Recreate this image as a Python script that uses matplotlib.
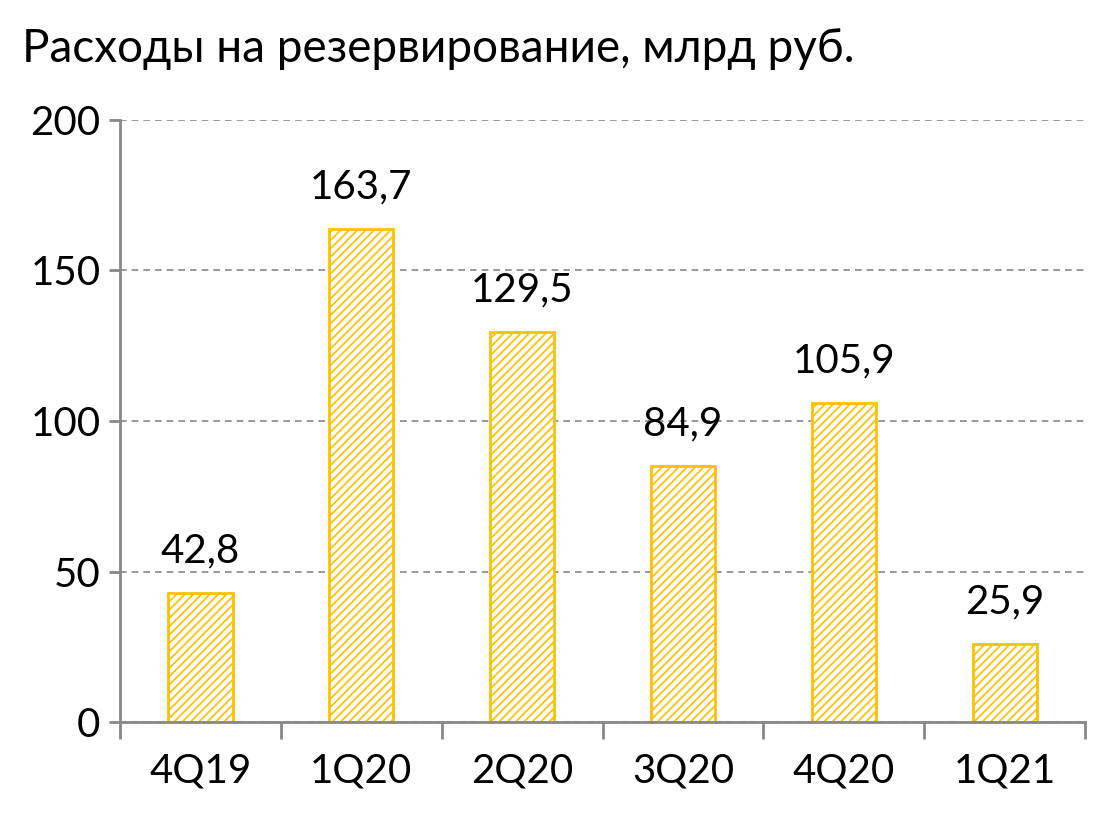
import matplotlib
matplotlib.use("Agg")
import matplotlib.pyplot as plt

categories = ["4Q19", "1Q20", "2Q20", "3Q20", "4Q20", "1Q21"]
values = [42.8, 163.7, 129.5, 84.9, 105.9, 25.9]
labels = ["42,8", "163,7", "129,5", "84,9", "105,9", "25,9"]

plt.rcParams['font.family'] = ['Lato', 'DejaVu Sans']
plt.rcParams['hatch.linewidth'] = 3.0
fig = plt.figure(figsize=(11.05, 8.15), dpi=100)
ax = fig.add_axes([0.1086, 0.114, 0.8734, 0.739])
x = range(len(categories))
ax.bar(x, values, width=0.4, color="#FFC000", edgecolor="white", hatch="////", linewidth=0)
ax.bar(x, values, width=0.4, fill=False, edgecolor="#FFC000", linewidth=2)
for i, (v, l) in enumerate(zip(values, labels)):
    ax.text(i, v + 8, l, ha="center", va="bottom", fontsize=29)
ax.set_xlim(-0.5, 5.5)
ax.set_ylim(0, 200)
ax.set_yticks([0, 50, 100, 150, 200])
ax.set_xticks(list(x))
ax.set_xticklabels(categories)
ax.set_xticks([i - 0.5 for i in range(7)], minor=True)
ax.tick_params(axis='x', which='major', length=0, pad=22, labelsize=29)
ax.tick_params(axis='x', which='minor', length=12, color="#888888", width=2)
ax.tick_params(axis='y', length=8, color="#888888", width=2, labelsize=29, pad=6)
ax.grid(axis='y', color="#888888", linestyle=(0, (4, 3)), linewidth=1.2)
ax.set_axisbelow(True)
for s in ["top", "right"]:
    ax.spines[s].set_visible(False)
for s in ["left", "bottom"]:
    ax.spines[s].set_color("#888888")
    ax.spines[s].set_linewidth(2)
fig.text(0.02, 0.94, "Расходы на резервирование, млрд руб.", fontsize=33, ha="left", va="center")
fig.savefig("out.png", dpi=100)
